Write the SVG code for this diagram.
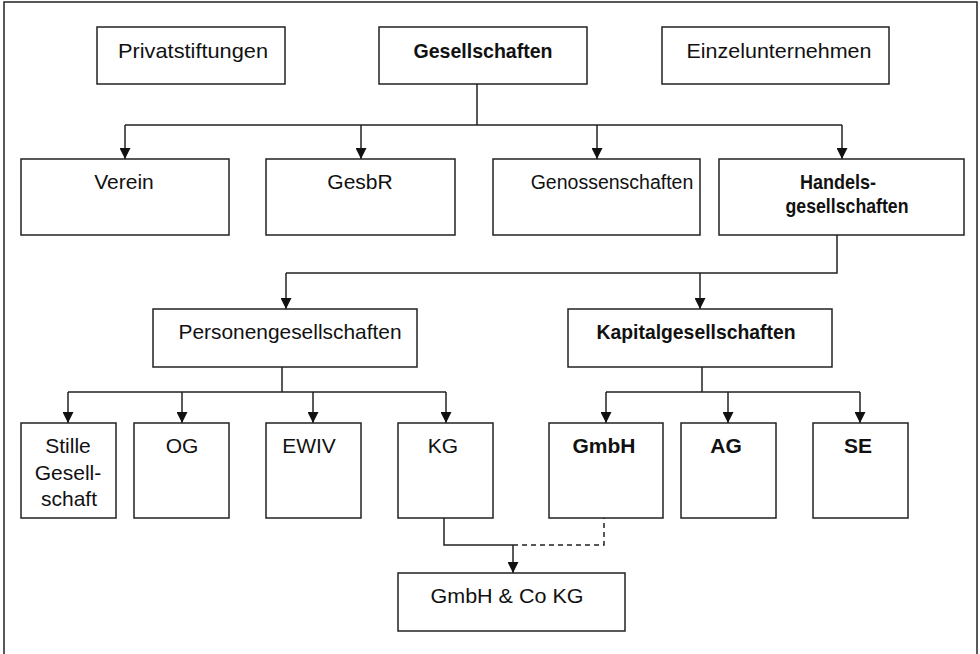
<svg xmlns="http://www.w3.org/2000/svg" width="980" height="654" viewBox="0 0 980 654">
<style>
.box{fill:#fff;stroke:#222;stroke-width:1.5}
.t{font-family:"Liberation Sans",Arial,sans-serif;font-size:21px;fill:#111;text-anchor:middle}
.b{font-weight:bold}
.ln{fill:none;stroke:#222;stroke-width:1.5}
.dash{stroke-dasharray:5,4}
</style>
<defs>
<marker id="arr" markerUnits="userSpaceOnUse" markerWidth="11" markerHeight="11" refX="11" refY="5.5" orient="auto">
<path d="M0,0 L11,5.5 L0,11 z" fill="#111"/>
</marker>
</defs>
<rect width="980" height="654" fill="#fff"/>
<path d="M4,660 V2 H977 V660" fill="none" stroke="#222" stroke-width="1.5"/>

<g id="connectors">
<path class="ln" d="M477,84 V125 M125,125 H842"/>
<path class="ln" d="M125,125 V159" marker-end="url(#arr)"/>
<path class="ln" d="M361,125 V159" marker-end="url(#arr)"/>
<path class="ln" d="M597,125 V159" marker-end="url(#arr)"/>
<path class="ln" d="M842,125 V159" marker-end="url(#arr)"/>
<path class="ln" d="M837,235 V273 H286"/>
<path class="ln" d="M286,273 V309" marker-end="url(#arr)"/>
<path class="ln" d="M700,273 V309" marker-end="url(#arr)"/>
<path class="ln" d="M282,367 V392 M68,392 H446"/>
<path class="ln" d="M68,392 V423" marker-end="url(#arr)"/>
<path class="ln" d="M182,392 V423" marker-end="url(#arr)"/>
<path class="ln" d="M313,392 V423" marker-end="url(#arr)"/>
<path class="ln" d="M446,392 V423" marker-end="url(#arr)"/>
<path class="ln" d="M702,367 V392 M606,392 H860"/>
<path class="ln" d="M606,392 V423" marker-end="url(#arr)"/>
<path class="ln" d="M728,392 V423" marker-end="url(#arr)"/>
<path class="ln" d="M860,392 V423" marker-end="url(#arr)"/>
<path class="ln" d="M444,518 V545 H513"/>
<path class="ln dash" d="M513,545 H604 V518"/>
<path class="ln" d="M513,545 V573" marker-end="url(#arr)"/>
</g>

<g id="privatstiftungen"><rect class="box" x="97" y="27" width="188" height="57"/><text class="t" x="193" y="58" textLength="150" lengthAdjust="spacingAndGlyphs">Privatstiftungen</text></g>
<g id="gesellschaften"><rect class="box" x="379" y="27" width="208" height="57"/><text class="t b" x="483" y="58" textLength="139" lengthAdjust="spacingAndGlyphs">Gesellschaften</text></g>
<g id="einzelunternehmen"><rect class="box" x="662" y="27" width="227" height="57"/><text class="t" x="779" y="58" textLength="185" lengthAdjust="spacingAndGlyphs">Einzelunternehmen</text></g>

<g id="verein"><rect class="box" x="21" y="159" width="208" height="76"/><text class="t" x="124" y="189">Verein</text></g>
<g id="gesbr"><rect class="box" x="266" y="159" width="189" height="76"/><text class="t" x="360" y="189">GesbR</text></g>
<g id="genossenschaften"><rect class="box" x="493" y="159" width="207" height="76"/><text class="t" x="612" y="189" style="font-size:19.5px">Genossenschaften</text></g>
<g id="handelsgesellschaften"><rect class="box" x="719" y="159" width="245" height="76"/><text class="t b" x="838" y="189" textLength="76" lengthAdjust="spacingAndGlyphs">Handels-</text><text class="t b" x="847" y="213" textLength="123" lengthAdjust="spacingAndGlyphs">gesellschaften</text></g>

<g id="personengesellschaften"><rect class="box" x="153" y="309" width="264" height="58"/><text class="t" x="290" y="339" textLength="223" lengthAdjust="spacingAndGlyphs">Personengesellschaften</text></g>
<g id="kapitalgesellschaften"><rect class="box" x="568" y="309" width="264" height="58"/><text class="t b" x="696" y="339" textLength="199" lengthAdjust="spacingAndGlyphs">Kapitalgesellschaften</text></g>

<g id="stille"><rect class="box" x="21" y="423" width="95" height="95"/><text class="t" x="68" y="453">Stille</text><text class="t" x="68" y="480">Gesell-</text><text class="t" x="69" y="506">schaft</text></g>
<g id="og"><rect class="box" x="134" y="423" width="95" height="95"/><text class="t" x="182" y="453">OG</text></g>
<g id="ewiv"><rect class="box" x="266" y="423" width="95" height="95"/><text class="t" x="309" y="453">EWIV</text></g>
<g id="kg"><rect class="box" x="398" y="423" width="95" height="95"/><text class="t" x="443" y="453">KG</text></g>
<g id="gmbh"><rect class="box" x="549" y="423" width="114" height="95"/><text class="t b" x="604" y="453">GmbH</text></g>
<g id="ag"><rect class="box" x="681" y="423" width="95" height="95"/><text class="t b" x="726" y="453">AG</text></g>
<g id="se"><rect class="box" x="813" y="423" width="95" height="95"/><text class="t b" x="858" y="453">SE</text></g>

<g id="gmbhcokg"><rect class="box" x="398" y="573" width="227" height="58"/><text class="t" x="507" y="603" textLength="153" lengthAdjust="spacingAndGlyphs">GmbH &amp; Co KG</text></g>
</svg>
